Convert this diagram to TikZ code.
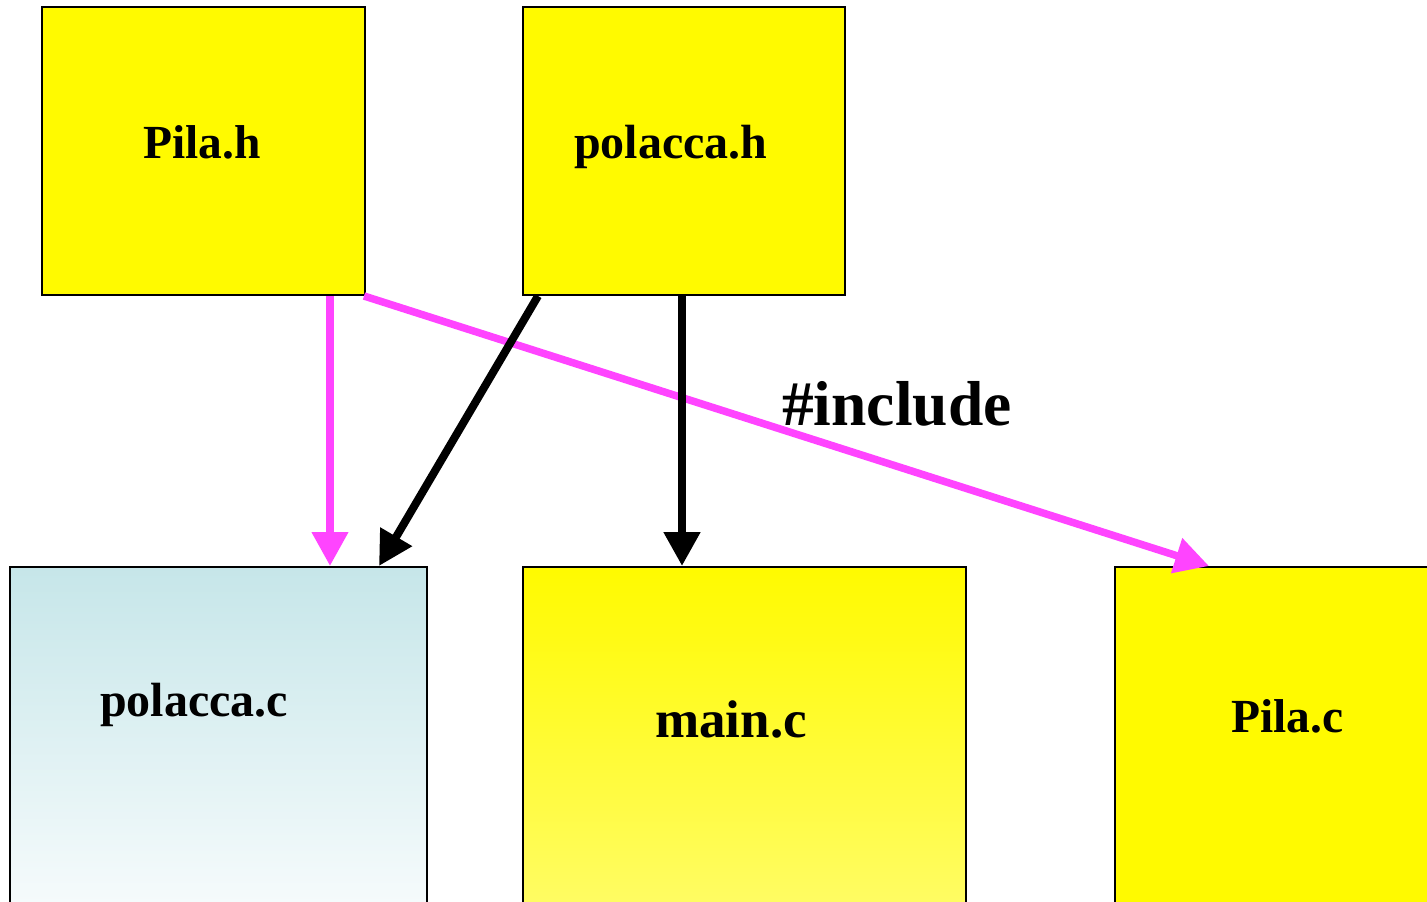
\documentclass[tikz,border=0pt]{standalone}
\usepackage{fontspec}
\setmainfont{Liberation Serif}
\usetikzlibrary{arrows.meta,calc}
\definecolor{mag}{RGB}{255,68,255}
\definecolor{ylw}{RGB}{255,250,0}
\definecolor{lbtop}{RGB}{198,230,233}
\definecolor{lbbot}{RGB}{246,251,252}
\definecolor{ylwbot}{RGB}{255,252,100}
\tikzset{
  filebox/.style={draw=black, line width=2pt, inner sep=0pt, rectangle},
  lbl/.style={anchor=base west, inner sep=0pt, font=\bfseries},
  magarrow/.style={draw=mag, line width=7.5pt, -{Triangle[width=35pt,length=34pt]}, mag},
  blkarrow/.style={draw=black, line width=8pt, -{Triangle[width=35pt,length=34pt]}},
}
\begin{document}
\begin{tikzpicture}[x=1pt,y=-1pt]
\useasboundingbox (0,0) rectangle (1427,902);
\clip (0,0) rectangle (1427,902);
% boxes
\node[filebox, fill=ylw, minimum width=323pt, minimum height=288pt] (pilah) at (203.5,151) {};
\node[filebox, fill=ylw, minimum width=322pt, minimum height=288pt] (polaccah) at (684,151) {};
\node[filebox, top color=lbtop, bottom color=lbbot, minimum width=417pt, minimum height=340pt] (polaccac) at (218.5,737) {};
\node[filebox, top color=ylw, bottom color=ylwbot, minimum width=443pt, minimum height=340pt] (mainc) at (744.5,737) {};
\node[filebox, fill=ylw, minimum width=340pt, minimum height=340pt] (pilac) at (1285,737) {};
% labels
\node[lbl, font=\bfseries\fontsize{47.5}{50}\selectfont] (tpilah) at (143,158) {Pila.h};
\node[lbl, font=\bfseries\fontsize{48}{50}\selectfont] (tpolaccah) at (574,158) {polacca.h};
\node[lbl, font=\bfseries\fontsize{48}{50}\selectfont] (tpolaccac) at (100,716) {polacca.c};
\node[lbl, font=\bfseries\fontsize{53}{56}\selectfont] (tmainc) at (655,737) {main.c};
\node[lbl, font=\bfseries\fontsize{47.5}{50}\selectfont] (tpilac) at (1231,732) {Pila.c};
% edges
\draw[magarrow] ($(pilah.south west)+(289,0)$) -- ($(polaccac.north west)+(321,0)$);
\draw[magarrow] ($(pilah.south east)+(-2,0)$) -- ($(pilac.north west)+(95,0)$);
\draw[blkarrow] ($(polaccah.south west)+(16,0)$) -- ($(polaccac.north west)+(370,0)$);
\draw[blkarrow] ($(polaccah.south west)+(160,0)$) -- ($(mainc.north west)+(160,0)$);
\node[lbl, font=\bfseries\fontsize{63.5}{66}\selectfont] (tinclude) at (782,425) {\#include};
\end{tikzpicture}
\end{document}
